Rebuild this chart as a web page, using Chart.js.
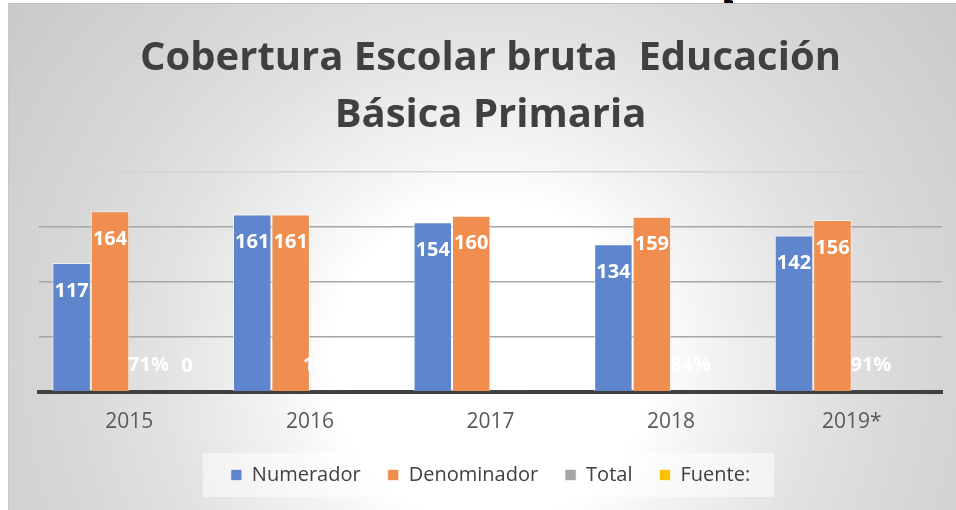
<!DOCTYPE html>
<html>
<head>
<meta charset="utf-8">
<script src="https://cdn.jsdelivr.net/npm/chart.js@4.4.1/dist/chart.umd.min.js"></script>
<style>
  html, body { margin: 0; padding: 0; background: #fff; }
  body { width: 956px; height: 510px; position: relative; overflow: hidden; font-family: "Open Sans", sans-serif; }
  .cut { position: absolute; left: 721px; top: 0; width: 12px; height: 3px; overflow: hidden; }
  .cut span { position: absolute; top: -37px; left: 0; font: bold 40px "Open Sans"; color: #000; }
  .box {
    position: absolute; left: 8px; top: 3px; width: 948px; height: 507px;
    border-left: 1px solid #c8c8c8; border-top: 1px solid #bdbdbd; box-sizing: border-box;
    background: radial-gradient(circle at 482px 357px, #ffffff 0px, #ffffff 160px, #f4f4f4 215px, #e2e2e2 330px, #d8d8d8 420px, #c9c9c9 600px);
  }
</style>
</head>
<body>
<div class="cut"><span>p</span></div>
<div class="box"><canvas id="chart"></canvas></div>
<script>
const years = ['2015', '2016', '2017', '2018', '2019*'];
const numerador = [117, 161, 154, 134, 142];
const denominador = [164, 161, 160, 159, 156];
const total = [0.71, 1.00, 0.96, 0.84, 0.91];
const fuente = [0, null, null, null, null];
const yTicks = [0, 50, 100, 150, 200];

const FONT = '"Open Sans", sans-serif';
const GAP = '\u2002\u2005';  // extra room between legend entries

// white value labels, like the Excel data labels
const barLabels = {
  id: 'barLabels',
  afterDatasetsDraw(chart) {
    const ctx = chart.ctx;
    ctx.save();
    ctx.fillStyle = '#ffffff';
    ctx.font = 'bold 20px ' + FONT;
    ctx.textAlign = 'center';
    ctx.textBaseline = 'middle';
    chart.data.datasets.forEach((ds, i) => {
      const meta = chart.getDatasetMeta(i);
      meta.data.forEach((bar, j) => {
        const v = ds.data[j];
        if (v === null || v === undefined) return;
        let txt, y;
        if (i < 2) {
          txt = String(v);
          y = bar.y + 28;
        } else {
          txt = i === 2 ? Math.round(v * 100) + '%' : String(v);
          y = bar.base - 26;
        }
        ctx.fillText(txt, bar.x, y);
      });
    });
    ctx.restore();
  }
};

// light panel behind the legend
const legendPanel = {
  id: 'legendPanel',
  beforeDraw(chart) {
    const lg = chart.legend;
    if (!lg || !lg.legendHitBoxes.length) return;
    const boxes = lg.legendHitBoxes;
    const x0 = Math.min(...boxes.map(b => b.left)) - 28;
    const x1 = Math.max(...boxes.map(b => b.left + b.width)) + 24;
    const ctx = chart.ctx;
    ctx.save();
    ctx.fillStyle = 'rgba(255,255,255,0.5)';
    ctx.fillRect(x0, boxes[0].top - 12, x1 - x0, boxes[0].height + 24);
    ctx.restore();
  }
};

new Chart(document.getElementById('chart'), {
  type: 'bar',
  data: {
    labels: years,
    datasets: [
      { label: 'Numerador', data: numerador, backgroundColor: '#5f86cc' },
      { label: 'Denominador', data: denominador, backgroundColor: '#ef8e4e' },
      { label: 'Total', data: total, backgroundColor: '#a5a5a5' },
      { label: 'Fuente:', data: fuente, backgroundColor: '#ffc000' }
    ].map(d => Object.assign(d, {
      borderColor: 'rgba(255,255,255,0.6)',
      borderWidth: 1,
      categoryPercentage: 0.852,
      barPercentage: 1
    }))
  },
  plugins: [barLabels, legendPanel],
  options: {
    responsive: true,
    maintainAspectRatio: false,
    animation: false,
    layout: { padding: { left: 30, right: 14, top: 0, bottom: 15 } },
    plugins: {
      title: {
        display: true,
        text: ['Cobertura Escolar bruta  Educación', 'Básica Primaria'],
        color: '#404040',
        font: { family: FONT, size: 40, weight: 'bold', lineHeight: 1.42 },
        padding: { top: 26, bottom: 28 }
      },
      legend: {
        position: 'bottom',
        labels: {
          color: '#404040',
          font: { family: FONT, size: 20 },
          boxWidth: 11,
          boxHeight: 11,
          padding: 12,
          generateLabels(chart) {
            const items = Chart.defaults.plugins.legend.labels.generateLabels(chart);
            items.forEach((it, k) => { if (k < items.length - 1) it.text += GAP; });
            return items;
          }
        }
      },
      tooltip: { enabled: false }
    },
    scales: {
      x: {
        grid: { display: false, drawTicks: false },
        border: { display: true, color: '#404040', width: 4 },
        ticks: { color: '#595959', font: { family: FONT, size: 21 }, padding: 18 }
      },
      y: {
        min: 0,
        max: 200,
        afterBuildTicks(axis) { axis.ticks = yTicks.map(v => ({ value: v })); },
        ticks: { display: false },
        border: { display: false },
        grid: {
          drawTicks: false,
          lineWidth: 1.5,
          color: ctx => ctx.tick.value === 0 ? 'rgba(0,0,0,0)' : (ctx.tick.value === 200 ? '#d4d4d4' : '#a6a6a6')
        }
      }
    }
  }
});
</script>
</body>
</html>
